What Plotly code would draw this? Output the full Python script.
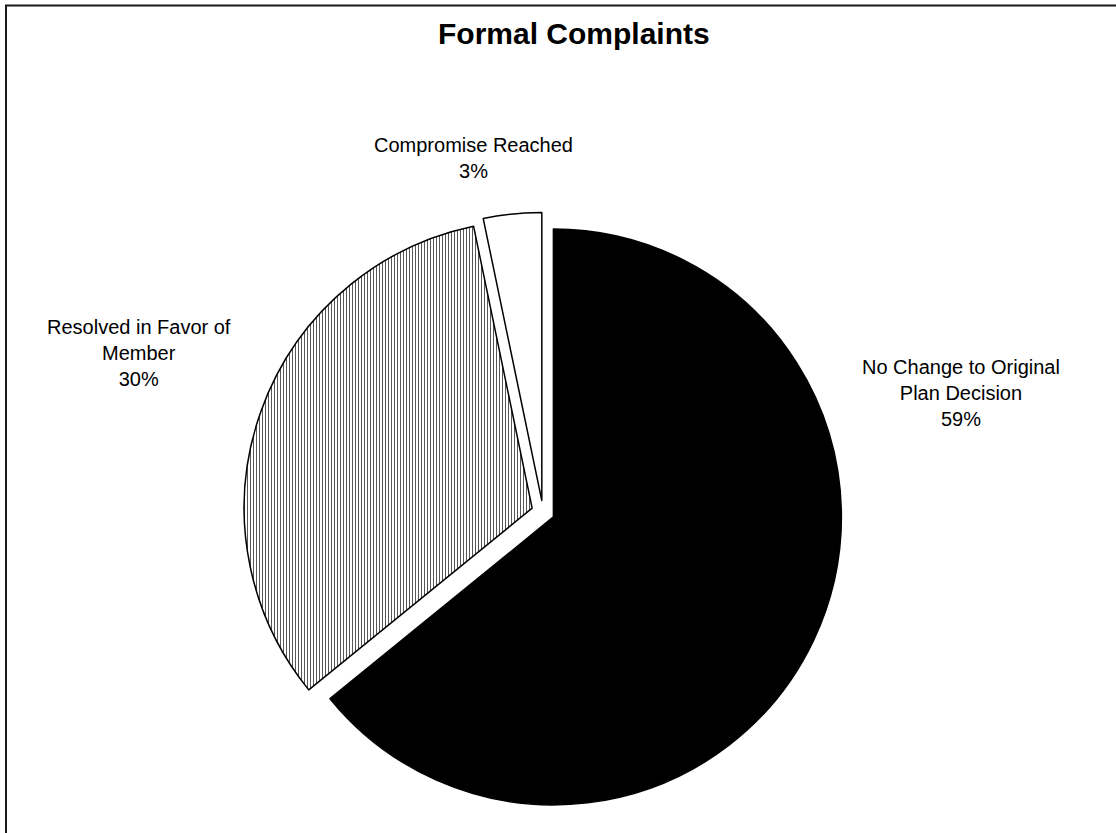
import plotly.graph_objects as go

# Complaint outcomes (share of formal complaints, %)
categories = ["No Change to Original<br>Plan Decision", "Resolved in Favor of<br>Member", "Compromise Reached"]
shares = [59, 30, 3]
fill_colors = ["#000000", "#ffffff", "#ffffff"]
patterns = ["", "|", ""]

W, H = 1116, 833

def px(x):
    return x / W

def py(y):
    return 1 - y / H

# Pie geometry in pixels
cx, cy, half = 543, 512, 299.5

fig = go.Figure()
fig.add_trace(go.Pie(
    labels=categories,
    values=shares,
    sort=False,
    direction="clockwise",
    rotation=0,
    pull=[0.04, 0.04, 0.04],
    textinfo="none",
    hoverinfo="label+value",
    showlegend=False,
    marker=dict(
        colors=fill_colors,
        line=dict(color="#000000", width=1.5),
        pattern=dict(shape=patterns, fgcolor="#444444", bgcolor="#ffffff",
                     size=3, solidity=0.3, fillmode="replace"),
    ),
    domain=dict(x=[px(cx - half), px(cx + half)], y=[py(cy + half), py(cy - half)]),
))

# Outside labels: category name plus its share
label_pos = [(961, 393), (139, 353), (473, 158)]
for name, val, (lx, ly) in zip(categories, shares, label_pos):
    fig.add_annotation(
        x=px(lx), y=py(ly), xref="paper", yref="paper",
        text=f"{name}<br>{val}%", showarrow=False,
        xanchor="center", yanchor="middle", align="center",
        font=dict(family="Liberation Sans, Arial, sans-serif", size=20, color="#000000"),
    )

# Title
fig.add_annotation(
    x=px(574), y=py(33), xref="paper", yref="paper",
    text="<b>Formal Complaints</b>", showarrow=False,
    xanchor="center", yanchor="middle",
    font=dict(family="Liberation Sans, Arial, sans-serif", size=30, color="#000000"),
)

# Chart frame
fig.add_shape(type="rect", xref="paper", yref="paper",
              x0=px(6), x1=px(W + 20), y0=py(H + 20), y1=py(5.5),
              line=dict(color="#1a1a1a", width=2), fillcolor="rgba(0,0,0,0)")

fig.update_layout(
    width=W, height=H,
    margin=dict(l=0, r=0, t=0, b=0),
    paper_bgcolor="#ffffff", plot_bgcolor="#ffffff",
)

fig.write_html("out.html")
